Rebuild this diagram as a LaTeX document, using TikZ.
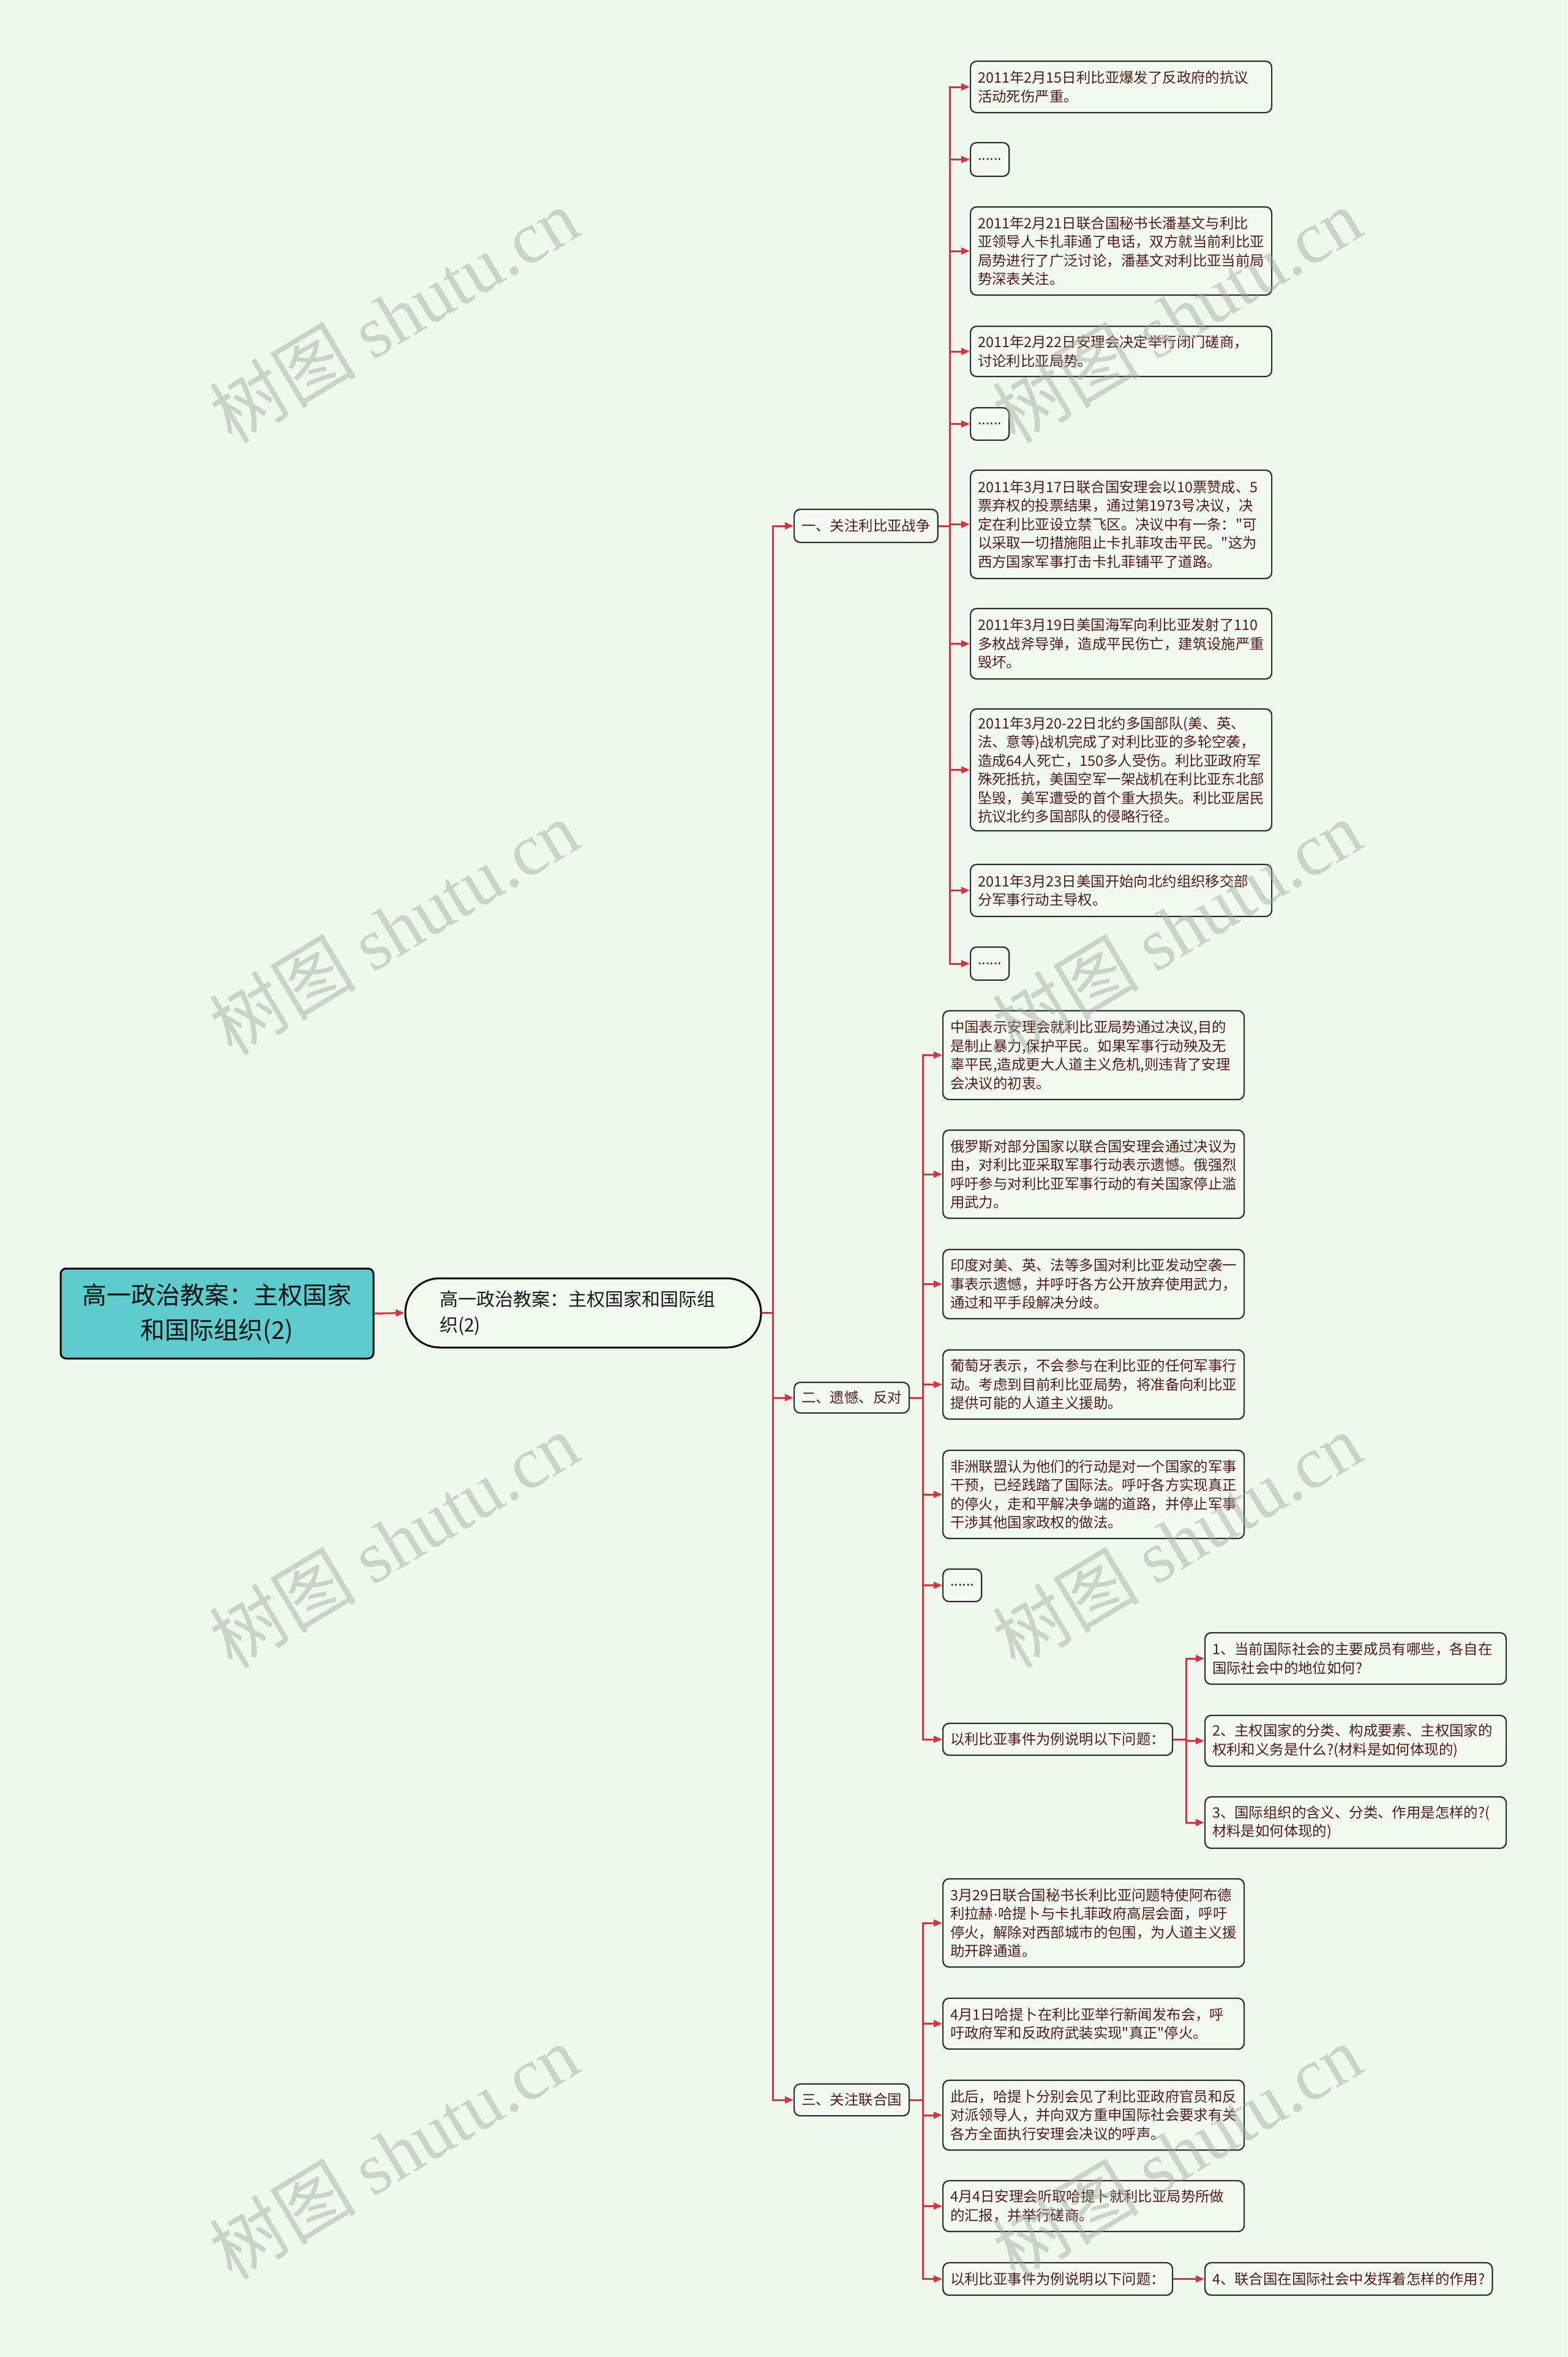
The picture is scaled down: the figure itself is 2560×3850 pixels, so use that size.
\documentclass[tikz,border=0pt]{standalone}
\usepackage{fontspec}
\setmainfont{Noto Sans CJK SC}[Ligatures=TeXOff]
\newfontfamily\wmserif{Liberation Serif}
\newfontfamily\latinsans{Liberation Sans}
\usetikzlibrary{arrows.meta}
\definecolor{bgc}{HTML}{F0F8EE}
\definecolor{boxfill}{HTML}{F3FAF2}
\definecolor{boxline}{HTML}{2E2E2E}
\definecolor{txtc}{HTML}{521B1B}
\definecolor{linkc}{HTML}{D8323E}
\definecolor{rootfill}{HTML}{5ECCCC}
\definecolor{wmc}{HTML}{9EA89E}
\newcommand\leaffont{\fontsize{23.4pt}{30.5pt}\selectfont}
\newcommand\mainfont{\fontsize{30pt}{42pt}\selectfont}
\newcommand\rootfont{\fontsize{40pt}{57pt}\selectfont}
\newcommand\wmfont{\fontsize{120pt}{130pt}\selectfont}
\begin{document}
\begin{tikzpicture}[x=1pt,y=-1pt,
  boxbase/.style={draw=boxline, line width=2.2pt, rounded corners=10pt, fill=boxfill,
    text=txtc, font=\leaffont, inner xsep=12pt, inner ysep=4pt, anchor=west},
  leaf/.style={boxbase, align=left, text width=468pt},
  conn/.style={draw=linkc, line width=3pt, -{Triangle[length=14pt,width=11pt]}},
  wm/.style={text=wmc, opacity=0.45, rotate=31, font=\wmfont, inner sep=0pt}
]
\fill[bgc] (0,0) rectangle (2560,3850);
\useasboundingbox (0,0) rectangle (2560,3850);

% root and main
\node[draw=black, line width=3pt, fill=rootfill, rounded corners=9pt, text=black!85!teal,
  font=\rootfont, align=center, minimum width=511pt, minimum height=147pt, inner sep=0pt]
  (root) at (354.5,2145.5) {高一政治教案：主权国家\\和国际组织(2)};
\node[draw=black, line width=3pt, fill=boxfill, rounded corners=56pt, text=black!90,
  font=\mainfont, align=left, text width=469pt, inner xsep=56pt, inner ysep=0pt,
  minimum height=113pt] (main) at (952.5,2144.5) {高一政治教案：主权国家和国际组\\织(2)};

% branches
\node[boxbase, minimum height=54pt] (b1) at (1296,859) {一、关注利比亚战争};
\node[boxbase, minimum height=50pt] (b2) at (1296,2283) {二、遗憾、反对};
\node[boxbase, minimum height=52pt] (b3) at (1296,3430) {三、关注联合国};

% branch 1 children
\node[leaf, minimum height=84pt] (c1) at (1584,142) {2011年2月15日利比亚爆发了反政府的抗议\\活动死伤严重。};
\node[boxbase, minimum height=55pt] (c2) at (1584,260.5) {......};
\node[leaf, minimum height=144pt] (c3) at (1584,410) {2011年2月21日联合国秘书长潘基文与利比\\亚领导人卡扎菲通了电话，双方就当前利比亚\\局势进行了广泛讨论，潘基文对利比亚当前局\\势深表关注。};
\node[leaf, minimum height=82pt] (c4) at (1584,574) {2011年2月22日安理会决定举行闭门磋商，\\讨论利比亚局势。};
\node[boxbase, minimum height=53pt] (c5) at (1584,692.5) {......};
\node[leaf, minimum height=177pt] (c6) at (1584,856.5) {2011年3月17日联合国安理会以10票赞成、5\\票弃权的投票结果，通过第1973号决议，决\\定在利比亚设立禁飞区。决议中有一条："可\\以采取一切措施阻止卡扎菲攻击平民。"这为\\西方国家军事打击卡扎菲铺平了道路。};
\node[leaf, minimum height=115pt] (c7) at (1584,1051.5) {2011年3月19日美国海军向利比亚发射了110\\多枚战斧导弹，造成平民伤亡，建筑设施严重\\毁坏。};
\node[leaf, minimum height=199pt] (c8) at (1584,1257.5) {2011年3月20-22日北约多国部队(美、英、\\法、意等)战机完成了对利比亚的多轮空袭，\\造成64人死亡，150多人受伤。利比亚政府军\\殊死抵抗，美国空军一架战机在利比亚东北部\\坠毁，美军遭受的首个重大损失。利比亚居民\\抗议北约多国部队的侵略行径。};
\node[leaf, minimum height=85pt] (c9) at (1584,1454.5) {2011年3月23日美国开始向北约组织移交部\\分军事行动主导权。};
\node[boxbase, minimum height=54pt] (c10) at (1584,1574) {......};

% branch 2 children
\node[leaf, minimum height=145pt] (d1) at (1539,1723.5) {中国表示安理会就利比亚局势通过决议,目的\\是制止暴力,保护平民。如果军事行动殃及无\\辜平民,造成更大人道主义危机,则违背了安理\\会决议的初衷。};
\node[leaf, minimum height=144pt] (d2) at (1539,1918) {俄罗斯对部分国家以联合国安理会通过决议为\\由，对利比亚采取军事行动表示遗憾。俄强烈\\呼吁参与对利比亚军事行动的有关国家停止滥\\用武力。};
\node[leaf, minimum height=113pt] (d3) at (1539,2097.5) {印度对美、英、法等多国对利比亚发动空袭一\\事表示遗憾，并呼吁各方公开放弃使用武力，\\通过和平手段解决分歧。};
\node[leaf, minimum height=113pt] (d4) at (1539,2261.5) {葡萄牙表示，不会参与在利比亚的任何军事行\\动。考虑到目前利比亚局势，将准备向利比亚\\提供可能的人道主义援助。};
\node[leaf, minimum height=144pt] (d5) at (1539,2441) {非洲联盟认为他们的行动是对一个国家的军事\\干预，已经践踏了国际法。呼吁各方实现真正\\的停火，走和平解决争端的道路，并停止军事\\干涉其他国家政权的做法。};
\node[boxbase, minimum height=53pt] (d6) at (1539,2589.5) {......};
\node[boxbase, minimum height=52pt] (d7) at (1539,2841) {以利比亚事件为例说明以下问题：};

\node[leaf, minimum height=84pt] (q1) at (1967,2709) {1、当前国际社会的主要成员有哪些，各自在\\国际社会中的地位如何?};
\node[leaf, minimum height=83pt] (q2) at (1967,2843.5) {2、主权国家的分类、构成要素、主权国家的\\权利和义务是什么?(材料是如何体现的)};
\node[leaf, minimum height=84pt] (q3) at (1967,2977) {3、国际组织的含义、分类、作用是怎样的?(\\材料是如何体现的)};

% branch 3 children
\node[leaf, minimum height=144pt] (e1) at (1539,3141) {3月29日联合国秘书长利比亚问题特使阿布德\\利拉赫{\latinsans ·}哈提卜与卡扎菲政府高层会面，呼吁\\停火，解除对西部城市的包围，为人道主义援\\助开辟通道。};
\node[leaf, minimum height=83pt] (e2) at (1539,3305.5) {4月1日哈提卜在利比亚举行新闻发布会，呼\\吁政府军和反政府武装实现"真正"停火。};
\node[leaf, minimum height=114pt] (e3) at (1539,3455) {此后，哈提卜分别会见了利比亚政府官员和反\\对派领导人，并向双方重申国际社会要求有关\\各方全面执行安理会决议的呼声。};
\node[leaf, minimum height=83pt] (e4) at (1539,3603.5) {4月4日安理会听取哈提卜就利比亚局势所做\\的汇报，并举行磋商。};
\node[boxbase, minimum height=53pt] (e5) at (1539,3722.5) {以利比亚事件为例说明以下问题：};
\node[boxbase, minimum height=53pt] (q4) at (1967,3722.5) {4、联合国在国际社会中发挥着怎样的作用?};

% trunk coordinates
\coordinate (t0) at (1262,2144.5);
\coordinate (t1) at (1551,859);
\coordinate (t2) at (1507,2283);
\coordinate (t3) at (1507,3430);
\coordinate (tq) at (1937,2841);

% connectors
\draw[conn] (root.east) -- (main.west);
\foreach \b in {b1,b2,b3} \draw[conn] (main.east) -- (t0) |- (\b.west);
\foreach \c in {c1,c2,c3,c4,c5,c6,c7,c8,c9,c10} \draw[conn] (b1.east) -- (t1) |- (\c.west);
\foreach \c in {d1,d2,d3,d4,d5,d6,d7} \draw[conn] (b2.east) -- (t2) |- (\c.west);
\foreach \c in {e1,e2,e3,e4,e5} \draw[conn] (b3.east) -- (t3) |- (\c.west);
\foreach \c in {q1,q2,q3} \draw[conn] (d7.east) -- (tq) |- (\c.west);
\draw[conn] (e5.east) -- (q4.west);

% watermarks
\foreach \wx in {643,1922} \foreach \wy in {515,1515,2516,3515}
  \node[wm] (wm-\wx-\wy) at (\wx,\wy) {树图 {\wmserif shutu.cn}};
\end{tikzpicture}
\end{document}
